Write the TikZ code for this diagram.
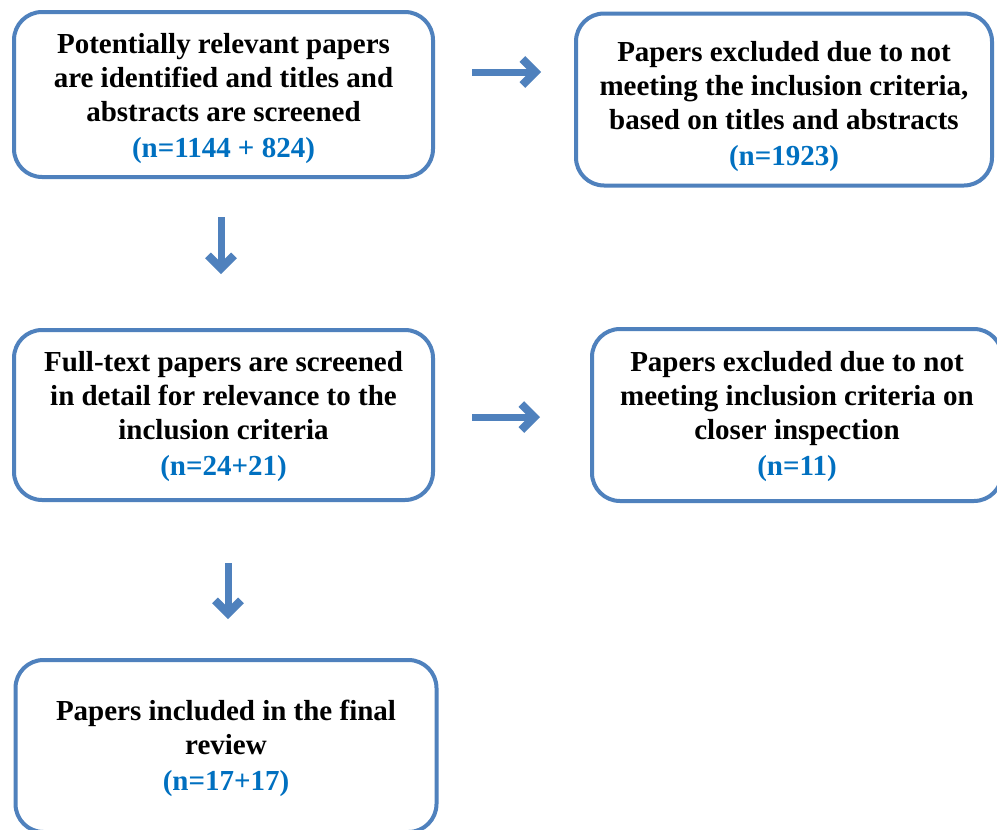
\documentclass[tikz,border=0pt]{standalone}
\usepackage{fontspec}
\setmainfont{Liberation Serif}
\usetikzlibrary{arrows.meta}
\definecolor{boxblue}{HTML}{4F81BD}
\definecolor{numblue}{HTML}{0070C0}
\tikzset{
  box/.style={draw=boxblue, line width=4pt, rounded corners=28pt, fill=white, inner sep=0pt},
  txt/.style={align=center, font=\bfseries\fontsize{29}{34}\selectfont, inner sep=0pt},
  arr/.style={draw=boxblue, line width=7pt,
    -{Straight Barb[length=13pt,width=26pt,line width=8pt]}},
}
\newcommand{\num}[1]{\textcolor{numblue}{#1}}
\begin{document}
\begin{tikzpicture}[x=1pt,y=-1pt]
\useasboundingbox (0,0) rectangle (997,830);
\fill[white] (0,0) rectangle (997,830);
\node[box, minimum width=419pt, minimum height=165pt] (b1) at (223.5,94.5) {};
\node[txt] (t1) at ([yshift=-4pt]b1.center)
  {Potentially relevant papers\\are identified and titles and\\abstracts are screened\\[2pt]\num{(n=1144 + 824)}};
\node[box, minimum width=416pt, minimum height=172pt] (b2) at (784,99.5) {};
\node[txt] (t2) at ([yshift=-7pt]b2.center)
  {Papers excluded due to not\\meeting the inclusion criteria,\\based on titles and abstracts\\[2pt]\num{(n=1923)}};
\node[box, minimum width=419pt, minimum height=170pt] (b3) at (223.5,415) {};
\node[txt] (t3) at ([yshift=-2pt]b3.center)
  {Full-text papers are screened\\in detail for relevance to the\\inclusion criteria\\[2pt]\num{(n=24+21)}};
\node[box, minimum width=410pt, minimum height=172pt] (b4) at (797,415) {};
\node[txt] (t4) at ([yshift=-2pt]b4.center)
  {Papers excluded due to not\\meeting inclusion criteria on\\closer inspection\\[2pt]\num{(n=11)}};
\node[box, minimum width=421pt, minimum height=172pt] (b5) at (226,746) {};
\node[txt] (t5) at ([yshift=-2pt]b5.center)
  {Papers included in the final\\review\\[2pt]\num{(n=17+17)}};
\coordinate (a1s) at (472,72);  \coordinate (a1e) at (541,72);
\coordinate (d1s) at (221,217); \coordinate (d1e) at (221,274);
\coordinate (a2s) at (472,417); \coordinate (a2e) at (540,417);
\coordinate (d2s) at (228,563); \coordinate (d2e) at (228,619);
\draw[arr] (a1s) -- (a1e);
\draw[arr] (d1s) -- (d1e);
\draw[arr] (a2s) -- (a2e);
\draw[arr] (d2s) -- (d2e);
\end{tikzpicture}
\end{document}
